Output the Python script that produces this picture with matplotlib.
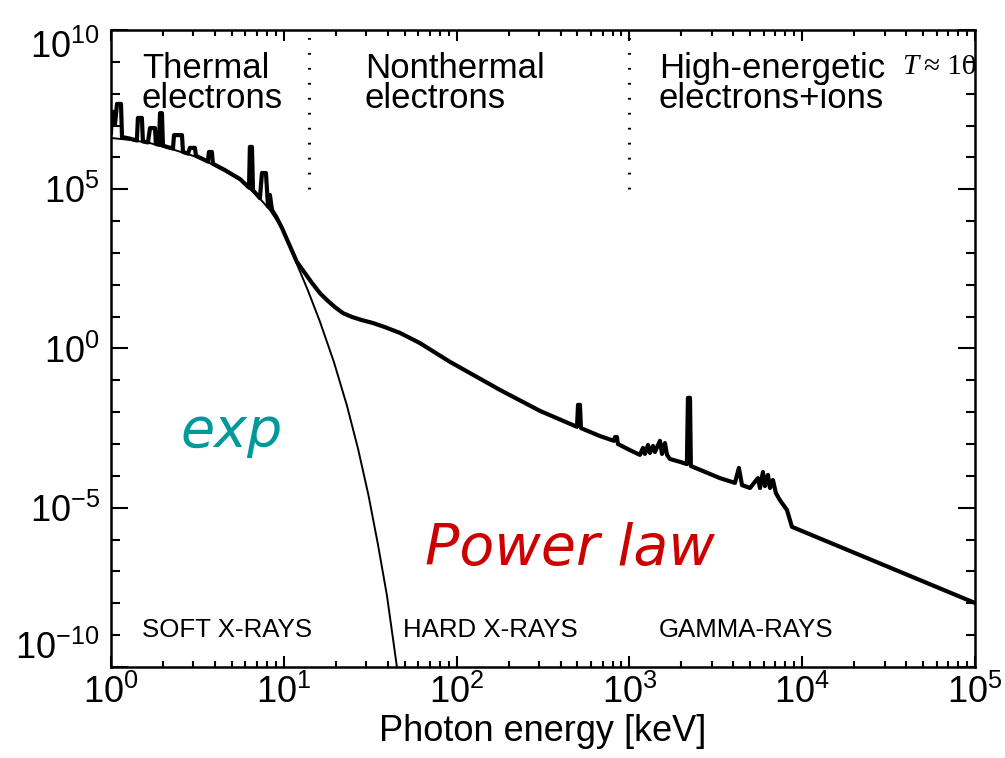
import numpy as np
import matplotlib.pyplot as plt
from matplotlib.ticker import FixedLocator, FuncFormatter, NullFormatter

plt.rcParams['font.family'] = ['Liberation Sans', 'DejaVu Sans']
plt.rcParams['mathtext.fontset'] = 'custom'
plt.rcParams['mathtext.rm'] = 'Liberation Sans'
plt.rcParams['mathtext.it'] = 'Liberation Sans:italic'

# total flare spectrum (log10 of photon energy in keV and of flux)
total_log_e = [0.000, 0.006, 0.017, 0.023, 0.035, 0.058, 0.064, 0.110, 0.150, 0.156,
               0.179, 0.185, 0.214, 0.226, 0.255, 0.260, 0.278, 0.284, 0.295, 0.301,
               0.330, 0.359, 0.365, 0.411, 0.417, 0.446, 0.457, 0.486, 0.492, 0.561,
               0.567, 0.584, 0.590, 0.660, 0.747, 0.799, 0.804, 0.816, 0.822, 0.862,
               0.874, 0.897, 0.909, 0.920, 0.932, 0.955, 0.990, 1.076, 1.163, 1.209,
               1.250, 1.296, 1.343, 1.395, 1.453, 1.516, 1.586, 1.672, 1.788, 1.962,
               2.251, 2.483, 2.697, 2.703, 2.714,
               2.720, 2.830, 2.911, 2.917, 2.928, 2.934, 3.003, 3.061, 3.079, 3.090,
               3.108, 3.119, 3.137, 3.148, 3.177, 3.189, 3.206, 3.218, 3.235, 3.293,
               3.333, 3.339, 3.351, 3.356, 3.409, 3.524, 3.611, 3.634, 3.652, 3.698,
               3.744, 3.756, 3.773, 3.785, 3.802, 3.814, 3.831, 3.848, 3.871, 3.912,
               3.941, 5.000]
total_log_f = [6.77, 7.43, 7.43, 7.02, 7.68, 7.68, 6.64, 6.59, 6.53, 7.24,
               7.24, 6.50, 6.47, 6.92, 6.92, 6.42, 6.40, 7.39, 7.39, 6.37,
               6.32, 6.28, 6.70, 6.70, 6.17, 6.12, 6.30, 6.30, 6.05, 5.87,
               6.17, 6.17, 5.80, 5.60, 5.32, 5.05, 6.33, 6.33, 4.97, 4.72,
               5.51, 5.51, 4.46, 4.82, 4.35, 4.15, 3.78, 2.72, 2.06, 1.74,
               1.52, 1.30, 1.11, 0.99, 0.89, 0.80, 0.67, 0.49, 0.17, -0.42,
               -1.30, -1.96, -2.46, -1.77, -1.77,
               -2.50, -2.75, -2.90, -2.78, -2.78, -3.00, -3.19, -3.34, -3.12, -3.31,
               -3.03, -3.28, -3.06, -3.25, -2.90, -3.31, -2.97, -3.34, -3.47, -3.56,
               -3.63, -1.55, -1.55, -3.69, -3.81, -4.07, -4.22, -3.75, -4.29, -4.38,
               -4.07, -4.38, -3.88, -4.32, -3.97, -4.38, -4.13, -4.54, -4.76, -5.07,
               -5.60, -7.99]

# thermal (exponential) component
thermal_log_e = [0.000, 0.110, 0.226, 0.359, 0.515, 0.660, 0.747, 0.850, 0.920,
                 0.990, 1.076, 1.140, 1.209, 1.290, 1.366, 1.430, 1.490, 1.545,
                 1.597, 1.655]
thermal_log_f = [6.61, 6.55, 6.45, 6.25, 5.98, 5.57, 5.29, 4.78, 4.35,
                 3.78, 2.65, 1.82, 0.85, -0.42, -1.80, -3.15, -4.60, -6.15,
                 -7.75, -10.0]

region_edges_keV = [14, 1000]
decades_x = [1e0, 1e1, 1e2, 1e3, 1e4, 1e5]
decades_y_major = [1e-10, 1e-5, 1e0, 1e5, 1e10]
decades_y_minor = [10.0 ** k for k in range(-10, 11) if k % 5 != 0]

fig = plt.figure(figsize=(10.05, 7.58), dpi=100)
ax = fig.add_axes([0.1104, 0.1201, 0.8597, 0.8403])

ax.plot(10 ** np.array(thermal_log_e), 10 ** np.array(thermal_log_f),
        color='black', lw=1.4)
ax.plot(10 ** np.array(total_log_e), 10 ** np.array(total_log_f),
        color='black', lw=3.0)

for e in region_edges_keV:
    ax.plot([e, e], [1e5, 1e10], color='black', lw=2.2,
            linestyle=(0, (0.6, 4.3)))

ax.set_xscale('log')
ax.set_yscale('log')
ax.set_xlim(1, 1e5)
ax.set_ylim(1e-10, 1e10)

def sci(v, pos):
    return r'$\mathregular{10^{%d}}$' % round(np.log10(v))

ax.xaxis.set_major_locator(FixedLocator(decades_x))
ax.xaxis.set_minor_locator(FixedLocator(
    [m * d for d in decades_x[:-1] for m in range(2, 10)]))
ax.yaxis.set_major_locator(FixedLocator(decades_y_major))
ax.yaxis.set_minor_locator(FixedLocator(decades_y_minor))
ax.xaxis.set_major_formatter(FuncFormatter(sci))
ax.yaxis.set_major_formatter(FuncFormatter(sci))
ax.xaxis.set_minor_formatter(NullFormatter())
ax.yaxis.set_minor_formatter(NullFormatter())

ax.tick_params(axis='both', which='both', direction='in', top=True, right=True,
               width=1.5, labelsize=26, colors='black')
ax.tick_params(axis='x', which='major', length=8, pad=6)
ax.tick_params(axis='x', which='minor', length=4)
ax.tick_params(axis='y', which='major', length=12, pad=8)
ax.tick_params(axis='y', which='minor', length=6.5)
for s in ax.spines.values():
    s.set_linewidth(1.8)

ax.set_xlabel('Photon energy [keV]', fontsize=26, labelpad=2)

tr = ax.transAxes
ax.text(0.0359, 0.9246, 'Thermal', fontsize=25, transform=tr)
ax.text(0.0359, 0.8776, 'electrons', fontsize=25, transform=tr)
ax.text(0.294, 0.9246, 'Nonthermal', fontsize=25, transform=tr)
ax.text(0.294, 0.8776, 'electrons', fontsize=25, transform=tr)
ax.text(0.634, 0.9246, 'High-energetic', fontsize=25, transform=tr)
ax.text(0.634, 0.8776, 'electrons+ions', fontsize=25, transform=tr)

ax.text(0.9155, 0.931, 'T', fontsize=21, style='italic', transform=tr,
        family=['Liberation Serif', 'DejaVu Serif'])
ax.text(0.941, 0.931, '\u2248 10', fontsize=21, transform=tr,
        family=['Liberation Serif', 'DejaVu Serif'])

ax.text(0.0359, 0.047, 'SOFT X-RAYS', fontsize=18.6, transform=tr)
ax.text(0.338, 0.047, 'HARD X-RAYS', fontsize=18.6, transform=tr)
ax.text(0.634, 0.047, 'GAMMA-RAYS', fontsize=18.6, transform=tr)

ax.text(0.0799, 0.345, 'exp', fontsize=40, style='italic', color='#009999',
        family='DejaVu Sans', transform=tr)
ax.text(0.363, 0.160, 'Power law', fontsize=41, style='italic', color='#cc0000',
        family='DejaVu Sans', transform=tr)

ylabels = ax.get_yticklabels()
ylabels[0].set_va('bottom')
ylabels[-1].set_va('top')

fig.savefig('out.png', dpi=100)
